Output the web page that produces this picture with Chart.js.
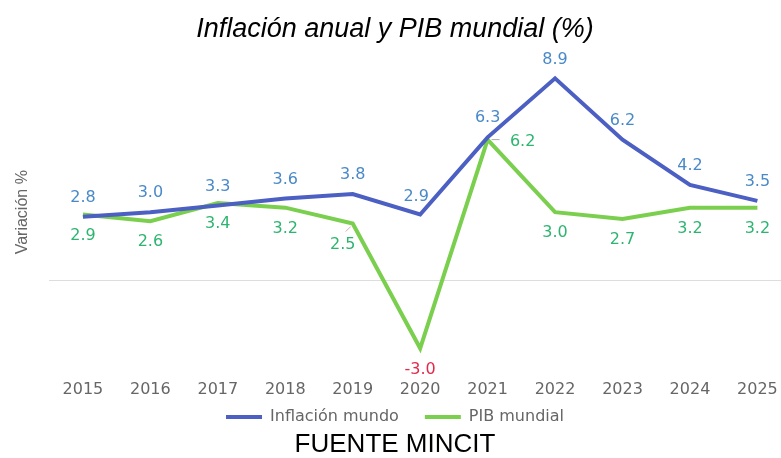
<!DOCTYPE html>
<html>
<head>
<meta charset="utf-8">
<script src="https://cdn.jsdelivr.net/npm/chart.js@4"></script>
<style>
  html, body { margin: 0; padding: 0; background: #fff; overflow: hidden; }
  #wrap { width: 781px; height: 458px; }
</style>
</head>
<body>
<div id="wrap"><canvas id="chart"></canvas></div>
<script>
const years = [2015, 2016, 2017, 2018, 2019, 2020, 2021, 2022, 2023, 2024, 2025];
const inflacion = [2.8, 3.0, 3.3, 3.6, 3.8, 2.9, 6.3, 8.9, 6.2, 4.2, 3.5];
const pib = [2.9, 2.6, 3.4, 3.2, 2.5, -3.0, 6.2, 3.0, 2.7, 3.2, 3.2];

// label placement tweaks [dx, dy] per point
const inflOffsets = years.map(() => [0, -19]);
inflOffsets[5] = [-4, -18];
const pibOffsets = years.map(() => [0, 21]);
pibOffsets[4] = [-10, 21];
pibOffsets[5] = [0, 22];
pibOffsets[6] = [35, 2];

const valueLabels = {
  id: "valueLabels",
  afterDatasetsDraw(chart) {
    const { ctx } = chart;
    const sets = [
      { idx: 0, vals: inflacion, offs: inflOffsets, color: "#4a89c8" },
      { idx: 1, vals: pib, offs: pibOffsets, color: "#2db56f" },
    ];
    ctx.save();
    ctx.font = "16px 'DejaVu Sans', Verdana, sans-serif";
    ctx.textAlign = "center";
    ctx.textBaseline = "middle";
    sets.forEach(({ idx, vals, offs, color }) => {
      const meta = chart.getDatasetMeta(idx);
      meta.data.forEach((pt, i) => {
        const [dx, dy] = offs[i];
        ctx.fillStyle = vals[i] < 0 ? "#e2294a" : color;
        ctx.fillText(vals[i].toFixed(1), pt.x + dx, pt.y + dy);
      });
    });
    // small leader lines
    const p19 = chart.getDatasetMeta(1).data[4];
    const p21 = chart.getDatasetMeta(1).data[6];
    ctx.lineWidth = 1;
    ctx.strokeStyle = "#d9a6c0";
    ctx.beginPath();
    ctx.moveTo(p19.x - 2, p19.y + 3);
    ctx.lineTo(p19.x - 7, p19.y + 8);
    ctx.stroke();
    ctx.strokeStyle = "#aaaaaa";
    ctx.beginPath();
    ctx.moveTo(p21.x + 4, p21.y);
    ctx.lineTo(p21.x + 12, p21.y);
    ctx.stroke();
    ctx.restore();
  },
};

// legend wants wide gaps between items but sits close to the axis: pull its top up
const legendNudge = {
  id: "legendNudge",
  afterLayout(chart) {
    chart.legend.top -= 15;
  },
};

const toXY = (vals) => vals.map((v, i) => ({ x: years[i], y: v }));

new Chart(document.getElementById("chart"), {
  type: "line",
  data: {
    datasets: [
      {
        label: "Inflación mundo",
        data: toXY(inflacion),
        borderColor: "#4c5fc2",
        backgroundColor: "#4c5fc2",
        borderWidth: 4,
        pointRadius: 0,
        tension: 0,
      },
      {
        label: "PIB mundial",
        data: toXY(pib),
        borderColor: "#7bcf4f",
        backgroundColor: "#7bcf4f",
        borderWidth: 4,
        pointRadius: 0,
        tension: 0,
      },
    ],
  },
  options: {
    responsive: true,
    maintainAspectRatio: false,
    animation: false,
    layout: { padding: { left: 9, right: 0, top: 0, bottom: 0 } },
    scales: {
      x: {
        type: "linear",
        min: 2014.5,
        max: 2025.35,
        afterBuildTicks(scale) {
          scale.ticks = years.map((v) => ({ value: v }));
        },
        grid: { display: false, tickLength: 11 },
        border: { display: false },
        ticks: {
          padding: 0,
          color: "#666",
          font: { family: "'DejaVu Sans', Verdana, sans-serif", size: 16, lineHeight: 1 },
          callback: (v) => String(v),
          maxRotation: 0,
          autoSkip: false,
        },
      },
      y: {
        min: -4,
        max: 10,
        border: { display: false },
        grid: {
          drawTicks: false,
          color: (c) => (c.tick && c.tick.value === 0 ? "#dddddd" : "transparent"),
        },
        ticks: { display: false, stepSize: 1 },
        title: {
          display: true,
          text: "Variación %",
          color: "#666",
          font: { family: "'Liberation Sans', Arial, sans-serif", size: 16 },
          padding: { top: 4, bottom: 17 },
        },
      },
    },
    plugins: {
      title: {
        display: true,
        text: "Inflación anual y PIB mundial (%)",
        color: "#000",
        font: { family: "'Liberation Sans', Arial, sans-serif", size: 27, style: "italic", weight: "normal" },
        padding: { top: 13, bottom: 8 },
      },
      subtitle: {
        display: true,
        position: "bottom",
        text: "FUENTE MINCIT",
        color: "#000",
        font: { family: "'Liberation Sans', Arial, sans-serif", size: 26, weight: "normal", lineHeight: 1 },
        padding: { top: 0, bottom: 0 },
      },
      legend: {
        position: "bottom",
        maxHeight: 34,
        labels: {
          boxWidth: 36,
          boxHeight: 4,
          padding: 26,
          color: "#666",
          font: { family: "'DejaVu Sans', Verdana, sans-serif", size: 16 },
          generateLabels(chart) {
            return Chart.defaults.plugins.legend.labels.generateLabels(chart).map((l) => ({ ...l, lineWidth: 0 }));
          },
        },
      },
      tooltip: { enabled: false },
    },
  },
  plugins: [valueLabels, legendNudge],
});
</script>
</body>
</html>
